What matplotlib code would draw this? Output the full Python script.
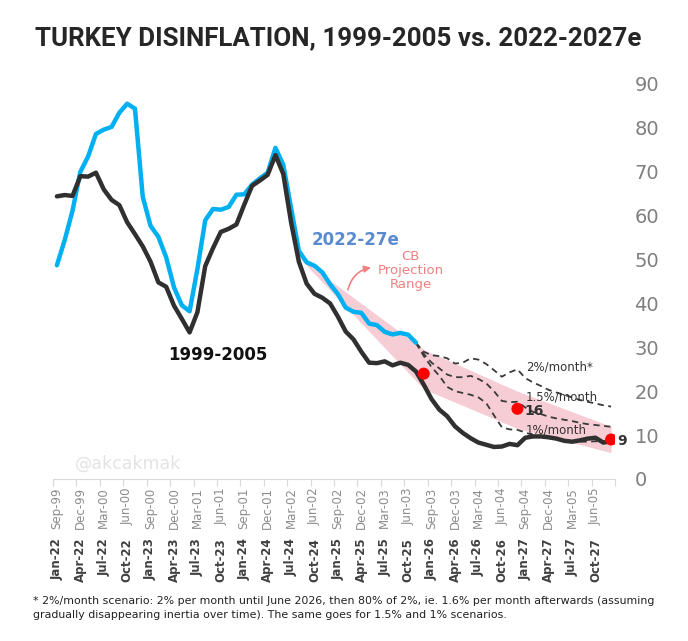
import numpy as np
import matplotlib
matplotlib.use("Agg")
import matplotlib.pyplot as plt

# Ay etiketleri (iki donem, ayni eksende)
etiket_1999 = ["Sep-99", "Dec-99", "Mar-00", "Jun-00", "Sep-00", "Dec-00", "Mar-01", "Jun-01",
               "Sep-01", "Dec-01", "Mar-02", "Jun-02", "Sep-02", "Dec-02", "Mar-03", "Jun-03",
               "Sep-03", "Dec-03", "Mar-04", "Jun-04", "Sep-04", "Dec-04", "Mar-05", "Jun-05"]
etiket_2022 = ["Jan-22", "Apr-22", "Jul-22", "Oct-22", "Jan-23", "Apr-23", "Jul-23", "Oct-23",
               "Jan-24", "Apr-24", "Jul-24", "Oct-24", "Jan-25", "Apr-25", "Jul-25", "Oct-25",
               "Jan-26", "Apr-26", "Jul-26", "Oct-26", "Jan-27", "Apr-27", "Jul-27", "Oct-27"]

# Yillik TUFE, 2022-01 .. 2025-11
tufe_2022 = [48.69, 54.44, 61.14, 69.97, 73.50, 78.62, 79.60, 80.21, 83.45, 85.51, 84.39, 64.27,
             57.68, 55.18, 50.51, 43.68, 39.59, 38.21, 47.83, 58.94, 61.53, 61.36, 61.98, 64.77,
             64.86, 67.07, 68.50, 69.80, 75.45, 71.60, 61.78, 51.97, 49.38, 48.58, 47.09, 44.38,
             42.12, 39.05, 38.10, 37.86, 35.41, 35.05, 33.52, 32.95, 33.29, 32.87, 31.07]

# Yillik TUFE, 1999-09 .. 2005-08
tufe_1999 = [64.4, 64.7, 64.5, 69.0, 68.9, 69.8, 66.0, 63.6, 62.4, 58.5, 55.8, 53.0,
             49.5, 44.8, 43.8, 39.5, 36.5, 33.4, 38.0, 48.5, 52.6, 56.3, 57.0, 58.0,
             62.5, 66.8, 68.0, 69.3, 73.8, 69.5, 58.5, 49.5, 44.5, 42.2, 41.3, 40.0,
             37.0, 33.6, 31.8, 29.0, 26.5, 26.4, 26.8, 25.9, 26.5, 26.0, 24.5, 21.5,
             18.2, 15.8, 14.3, 12.0, 10.5, 9.3, 8.3, 7.8, 7.3, 7.4, 8.0, 7.7,
             9.4, 9.7, 9.7, 9.5, 9.2, 8.7, 8.5, 8.8, 9.2, 9.4, 8.3, 8.6]

# Senaryolar, 2025-11 .. 2027-12
senaryo_ay = list(range(46, 72))
senaryo_2 = [31.0, 29.0, 28.2, 28.0, 27.5, 26.3, 26.5, 27.5, 27.2, 26.2, 24.8, 23.3, 24.3,
             25.0, 23.0, 22.0, 21.2, 20.3, 19.7, 19.2, 18.6, 18.0, 17.6, 17.2, 16.8, 16.5]
senaryo_15 = [31.0, 28.5, 26.5, 25.2, 23.8, 23.2, 23.2, 23.5, 22.8, 21.8, 20.0, 17.8, 17.5,
              17.6, 16.3, 15.3, 14.8, 14.2, 13.8, 13.5, 13.2, 12.8, 12.5, 12.3, 12.1, 11.9]
senaryo_1 = [31.0, 28.0, 25.5, 23.5, 21.0, 20.0, 19.6, 19.2, 18.6, 17.3, 14.5, 11.8, 11.3,
             11.2, 10.6, 10.0, 9.6, 9.4, 9.1, 8.9, 8.6, 8.5, 8.5, 8.6, 8.5, 8.6]

# MB tahmin araligi (kose noktalari) ve ara hedefler
aralik_ay = [31, 47, 59, 71]
aralik_alt = [50.5, 20.5, 11.5, 6.0]
aralik_ust = [50.5, 29.5, 20.0, 12.0]
hedef_ay = [47, 59, 71]
hedef = [24, 16, 9]

n_ay = 72
x = np.arange(n_ay)

fig = plt.figure(figsize=(6.88, 6.41), dpi=100)
ax = fig.add_axes([53 / 688, 1 - 479 / 641, 562 / 688, 395 / 641])

ax.fill_between(aralik_ay, aralik_alt, aralik_ust, color="#F7CDD5", lw=0, zorder=1)

ax.plot(x[:len(tufe_2022)], tufe_2022, color="#00B0F0", lw=3.2, solid_capstyle="round",
        solid_joinstyle="round", zorder=3)
ax.plot(x, tufe_1999, color="#303030", lw=3.2, solid_capstyle="round",
        solid_joinstyle="round", zorder=4)

for s in (senaryo_2, senaryo_15, senaryo_1):
    ax.plot(senaryo_ay, s, color="#3A3A3A", lw=1.3, ls=(0, (3.5, 2.5)), zorder=2)

ax.scatter(hedef_ay, hedef, s=75, color="#FF0000", zorder=5, edgecolors="none")

ax.set_xlim(-0.5, n_ay - 0.5)
ax.set_ylim(0, 90)

for k in ["top", "left", "right"]:
    ax.spines[k].set_visible(False)
ax.spines["bottom"].set_color("#D9D9D9")

ax.yaxis.tick_right()
ax.set_yticks(range(0, 91, 10))
ax.tick_params(axis="y", length=0, pad=14, labelsize=14, labelcolor="#7F7F7F")

etiket_yer = np.arange(0, n_ay, 3)
ax.set_xticks(etiket_yer)
ax.set_xticklabels(etiket_1999, rotation=90, fontsize=8.5, color="#8C8C8C")
ax.tick_params(axis="x", which="major", length=0, pad=6)
ax.set_xticks(np.arange(-0.5, n_ay, 3), minor=True)
ax.tick_params(axis="x", which="minor", length=5, color="#D9D9D9", width=0.8)

ax2 = ax.secondary_xaxis(-0.142)
ax2.set_xticks(etiket_yer)
ax2.set_xticklabels(etiket_2022, rotation=90, fontsize=8.5, color="#404040", fontweight="bold")
ax2.tick_params(axis="x", length=0, pad=2)
ax2.spines["bottom"].set_visible(False)

# metinler
ax.text(38.2, 54.4, "2022-27e", fontsize=12, fontweight="bold", color="#5A8BD0",
        ha="center", va="center")
ax.text(20.6, 28.2, "1999-2005", fontsize=12, fontweight="bold", color="#111111",
        ha="center", va="center")
ax.text(45.3, 47.4, "CB\nProjection\nRange", fontsize=9.5, color="#F08080",
        ha="center", va="center", linespacing=1.1)
ax.annotate("", xy=(40.6, 48.3), xytext=(37.2, 42.5),
            arrowprops=dict(arrowstyle="-|>", color="#F08080", lw=1.2,
                            connectionstyle="arc3,rad=-0.35", mutation_scale=10))
ax.text(60.1, 25.5, "2%/month*", fontsize=8.5, color="#333333", va="center")
ax.text(60.1, 18.6, "1.5%/month", fontsize=8.5, color="#333333", va="center")
ax.text(60.1, 11.2, "1%/month", fontsize=8.5, color="#333333", va="center")
ax.text(59.9, 15.5, "16", fontsize=10, fontweight="bold", color="#333333", va="center")
ax.text(71.8, 8.7, "9", fontsize=10, fontweight="bold", color="#333333", va="center")
ax.text(2.3, 3.4, "@akcakmak", fontsize=12.5, color="#E3E3E3", va="center")

fig.text(338 / 688, 1 - 38 / 641, "TURKEY DISINFLATION, 1999-2005 vs. 2022-2027e",
         fontsize=18.6, fontweight="bold", family="Roboto", color="#262626",
         ha="center", va="center")
fig.text(33 / 688, 1 - 608 / 641,
         "* 2%/month scenario: 2% per month until June 2026, then 80% of 2%, ie. 1.6% per month afterwards (assuming\n"
         "gradually disappearing inertia over time). The same goes for 1.5% and 1% scenarios.",
         fontsize=7.9, color="#222222", ha="left", va="center", linespacing=1.5)

fig.savefig("out.png", dpi=100)
